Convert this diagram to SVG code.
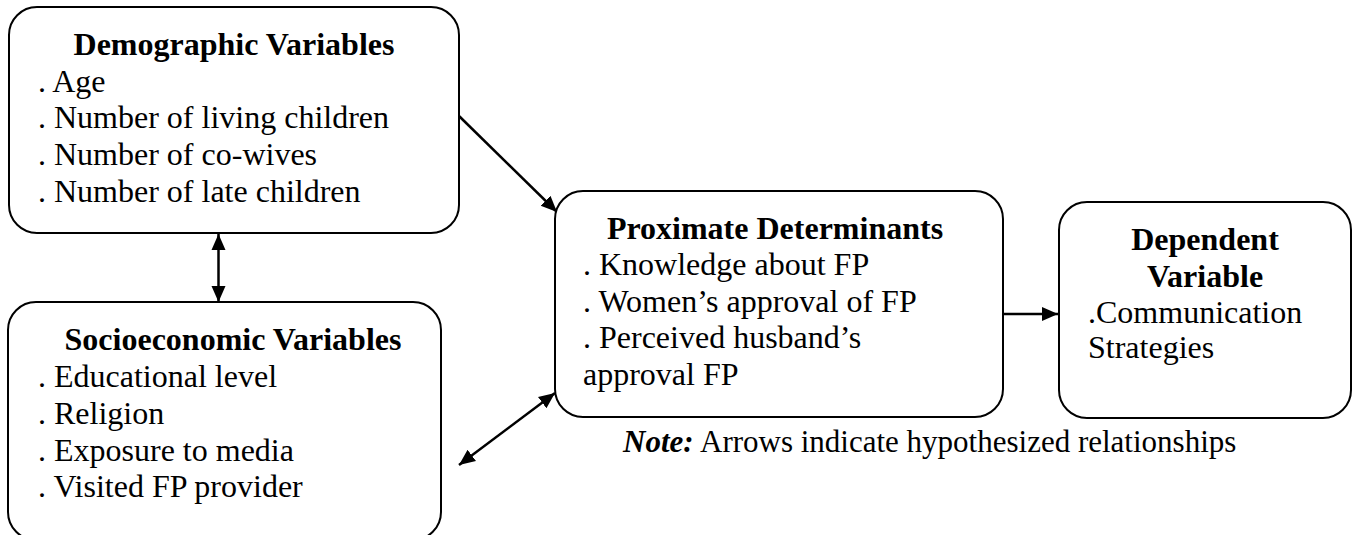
<svg xmlns="http://www.w3.org/2000/svg" width="1357" height="535" viewBox="0 0 1357 535">
  <style>
    .box { fill: #ffffff; stroke: #000000; stroke-width: 2; }
    .title { font-family: "Liberation Serif", "Times New Roman", serif; font-size: 32px; font-weight: bold; fill: #000; }
    .item { font-family: "Liberation Serif", "Times New Roman", serif; font-size: 32px; fill: #000; }
    .note { font-family: "Liberation Serif", "Times New Roman", serif; font-size: 31px; fill: #000; }
    .conn { stroke: #000000; stroke-width: 2.5; fill: none; }
  </style>
  <defs>
    <marker id="arrow" markerUnits="userSpaceOnUse" markerWidth="18" markerHeight="16" refX="16" refY="8" orient="auto-start-reverse">
      <path d="M0,1 L16,8 L0,15 Z" fill="#000000"/>
    </marker>
  </defs>
  <rect width="1357" height="535" fill="#ffffff"/>

  <g id="connectors">
    <line class="conn" x1="459" y1="116" x2="557" y2="212" marker-end="url(#arrow)"/>
    <line class="conn" x1="218.5" y1="234" x2="218.5" y2="302" marker-start="url(#arrow)" marker-end="url(#arrow)"/>
    <line class="conn" x1="459" y1="465" x2="555" y2="393" marker-start="url(#arrow)" marker-end="url(#arrow)"/>
    <line class="conn" x1="1003" y1="314" x2="1058" y2="314" marker-end="url(#arrow)"/>
  </g>

  <g id="demographic">
    <rect class="box" x="9" y="7" width="450" height="226" rx="28" ry="28"/>
    <text class="title" x="234" y="55" text-anchor="middle">Demographic Variables</text>
    <text class="item" x="38" y="92">. Age</text>
    <text class="item" x="38" y="128">. Number of living children</text>
    <text class="item" x="38" y="165">. Number of co-wives</text>
    <text class="item" x="38" y="202">. Number of late children</text>
  </g>

  <g id="socioeconomic">
    <rect class="box" x="8" y="302" width="433" height="238" rx="28" ry="28"/>
    <text class="title" x="233" y="350" text-anchor="middle">Socioeconomic Variables</text>
    <text class="item" x="38" y="387">. Educational level</text>
    <text class="item" x="38" y="424">. Religion</text>
    <text class="item" x="38" y="461">. Exposure to media</text>
    <text class="item" x="38" y="497">. Visited FP provider</text>
  </g>

  <g id="proximate">
    <rect class="box" x="555" y="191" width="448" height="226" rx="28" ry="28"/>
    <text class="title" x="775" y="239" text-anchor="middle">Proximate Determinants</text>
    <text class="item" x="583" y="275">. Knowledge about FP</text>
    <text class="item" x="583" y="312">. Women’s approval of FP</text>
    <text class="item" x="583" y="348">. Perceived husband’s</text>
    <text class="item" x="583" y="385">approval FP</text>
  </g>

  <g id="dependent">
    <rect class="box" x="1059" y="202" width="292" height="216" rx="28" ry="28"/>
    <text class="title" x="1205" y="250" text-anchor="middle">Dependent</text>
    <text class="title" x="1205" y="287" text-anchor="middle">Variable</text>
    <text class="item" x="1088" y="323">.Communication</text>
    <text class="item" x="1088" y="358">Strategies</text>
  </g>

  <g id="note">
    <text class="note" x="623" y="452"><tspan font-weight="bold" font-style="italic">Note:</tspan><tspan x="700">Arrows indicate hypothesized relationships</tspan></text>
  </g>
</svg>
